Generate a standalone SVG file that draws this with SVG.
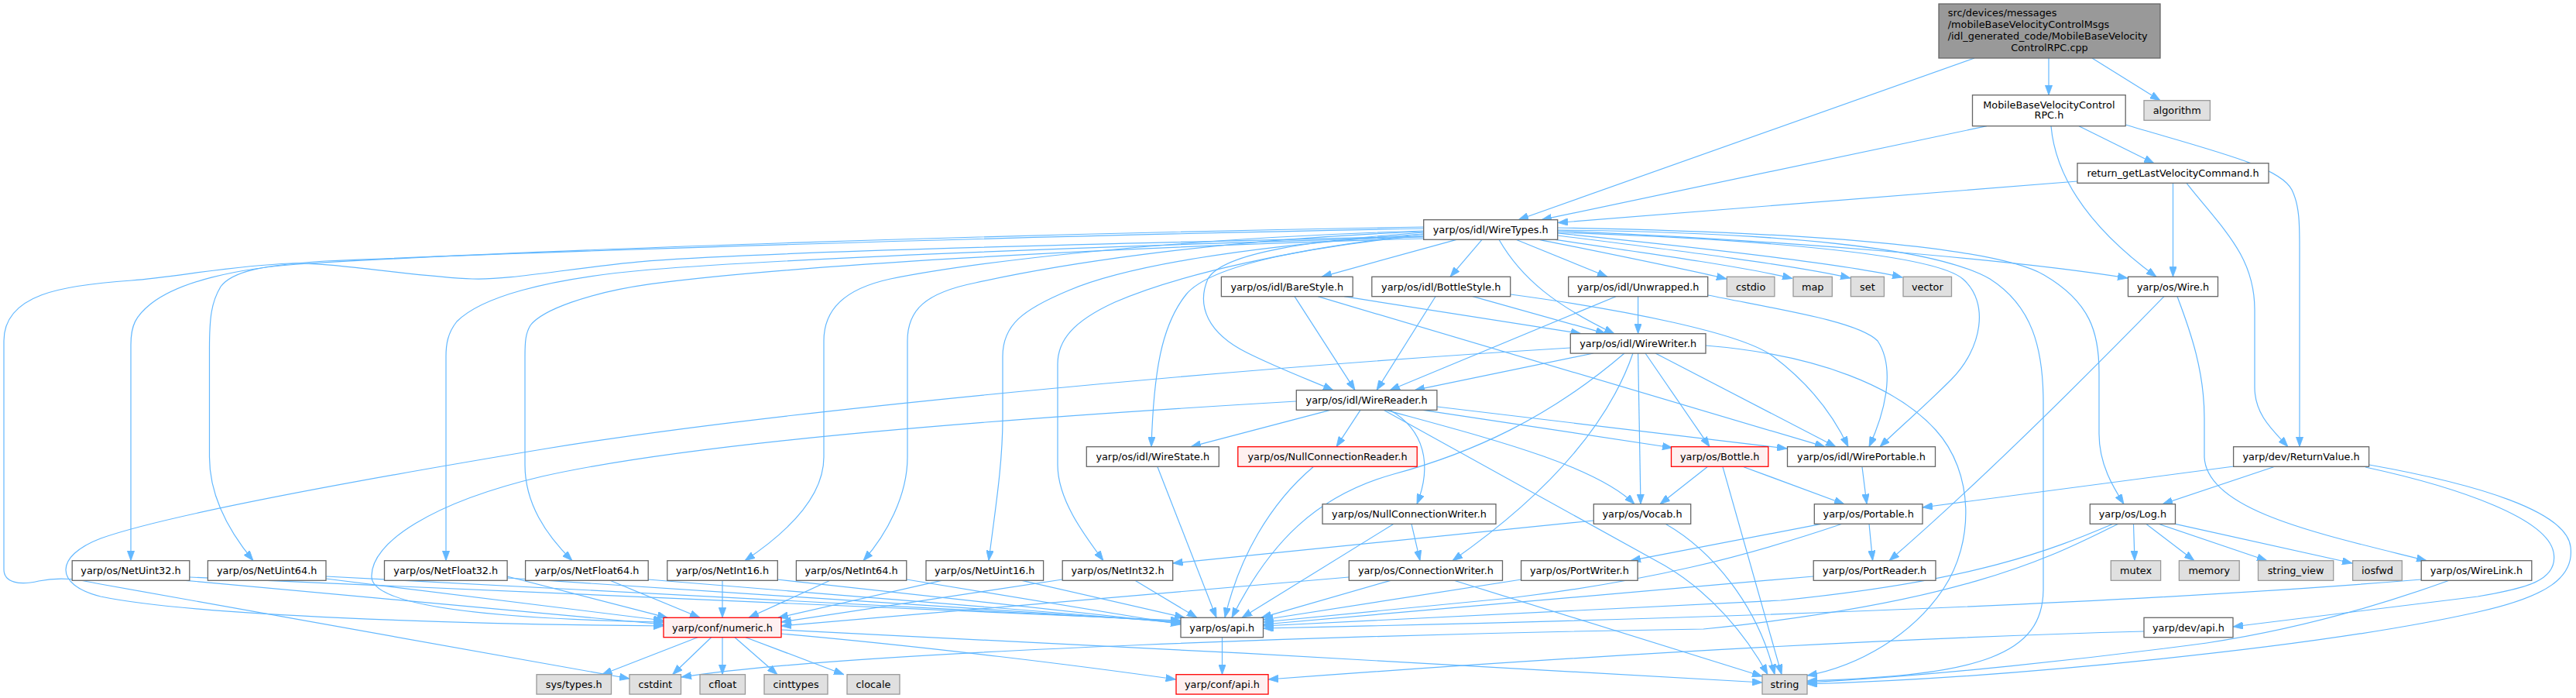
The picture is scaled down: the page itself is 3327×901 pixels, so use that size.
<svg xmlns="http://www.w3.org/2000/svg" width="3327" height="901" viewBox="0 0 3327 901">
<style>
rect{stroke-width:1.3}
.n rect{fill:#fff;stroke:#666}
.g rect{fill:#E0E0E0;stroke:#999}
.r rect{fill:#FFF0F0;stroke:#F00}
.root rect{fill:#999;stroke:#666}
text{font-family:"DejaVu Sans","Liberation Sans",sans-serif;font-size:12.85px;text-anchor:middle;fill:#000}
.l{text-anchor:start}
#edges path{fill:none;stroke:#63B8FF;stroke-width:1.2;marker-end:url(#a)}
</style>
<defs>
<marker id="a" viewBox="0 0 13 9.5" refX="13" refY="4.75" markerWidth="13" markerHeight="9.5" markerUnits="userSpaceOnUse" orient="auto"><path d="M0,0 L13,4.75 L0,9.5 z" fill="#63B8FF" stroke="#63B8FF" stroke-width="0.8"/></marker>
</defs>
<rect width="3327" height="901" fill="#fff"/>
<g id="edges">
<path d="M2646,75 L2646,122.7"/>
<path d="M2550,75 L1961,283.7"/>
<path d="M2702,75 L2790,129.7"/>
<path d="M2566,162.7 L1991,283.7"/>
<path d="M2685,162.7 L2782,210.7"/>
<path d="M2649,162.7 C2655,230 2700,295 2785,357.3"/>
<path d="M2745,161 C2860,195 2945,215 2960,245 C2970,265 2970,290 2970,320 L2970,576.7"/>
<path d="M2683,234 L2012,287.5"/>
<path d="M2806.5,236.3 L2806.5,357.3"/>
<path d="M2824,236.3 C2870,295 2912,330 2912,400 L2912,500 C2912,535 2935,555 2955,576.7"/>
<path d="M1881,309.3 L1707,357.3"/>
<path d="M1914,309.3 L1873,357.3"/>
<path d="M1958,309.3 L2076,357.3"/>
<path d="M1988,309.3 C2080,328 2180,348 2230,360"/>
<path d="M2008,309.3 C2150,330 2260,346 2315,359.5"/>
<path d="M2012,304 C2180,325 2320,343 2390,359"/>
<path d="M2012,301 C2200,320 2380,340 2457,358"/>
<path d="M2012,298 C2300,310 2600,335 2748,359"/>
<path d="M2012,294 C2350,300 2580,320 2640,355 C2700,390 2711,430 2711,480 L2711,560 C2711,600 2730,630 2743,650.7"/>
<path d="M2012,297 C2300,300 2500,320 2570,360 C2625,395 2639,450 2639,520 L2639,760 C2639,845 2560,872 2334,879"/>
<path d="M2012,300 C2300,310 2500,330 2535,360 C2570,390 2560,450 2520,490 C2480,530 2455,550 2428,576.7"/>
<path d="M1936,309.3 C1965,360 2010,395 2085,430.7"/>
<path d="M1839,300 C1700,310 1580,325 1560,360 C1545,395 1560,430 1610,455 C1650,475 1690,490 1722,503.7"/>
<path d="M1839,302 C1700,318 1565,340 1532,380 C1500,420 1490,480 1487,576.7"/>
<path d="M1839,293 C1300,302 700,322 400,340 C300,346 230,365 195,392 C175,408 169,420 169,445 L169,723.7"/>
<path d="M1839,295 C1300,305 700,325 420,337 C340,342 300,350 285,370 C273,390 270.5,410 270.5,450 L270.5,590 C270.5,640 295,685 327,723.7"/>
<path d="M1839,305 C1400,315 1000,325 840,336.7 C740,345 660,362 610,360 C540,358 430,338 375,340 C300,343 230,357 170,362 C80,368 5,380 5,440 L5,735 C5,752 25,756 50,750 C80,744 100,748 130,754 L813,876"/>
<path d="M1839,306 C1400,318 1000,335 840,348 C700,360 620,385 590,415 C578,430 576,445 576,460 L576,723.7"/>
<path d="M1839,308 C1400,320 1000,345 840,366.7 C760,378 700,400 685,420 C679,430 678,440 678,460 L678,600 C678,650 705,690 739,723.7"/>
<path d="M1839,298 C1500,308 1250,340 1150,360 C1090,373 1064,400 1064,440 L1064,590 C1064,640 1020,685 962,723.7"/>
<path d="M1839,299 C1550,310 1350,345 1260,365 C1195,378 1172,400 1172,440 L1172,590 C1172,640 1145,690 1115,723.7"/>
<path d="M1839,302 C1600,318 1450,345 1380,375 C1320,400 1295,420 1295,460 L1295,540 C1295,600 1285,660 1277,723.7"/>
<path d="M1839,304 C1680,318 1520,355 1440,390 C1385,415 1366,440 1366,470 L1366,600 C1366,645 1400,690 1425,723.7"/>
<path d="M1736,382.7 L2042,430.7"/>
<path d="M1672,382.7 L1750,503.7"/>
<path d="M1702,382.7 L2357,576.7"/>
<path d="M1902,382.7 L2074,430.7"/>
<path d="M1854,382.7 L1778,503.7"/>
<path d="M1951,380 C2100,400 2250,430 2290,460 C2330,490 2365,530 2387,576.7"/>
<path d="M2115.6,382.7 L2115.6,430.7"/>
<path d="M2087,382.7 L1795,503.7"/>
<path d="M2206,381 C2300,400 2400,415 2425,440 C2445,470 2440,520 2414,576.7"/>
<path d="M2058,456 L1827,503.7"/>
<path d="M2028,449 C1600,475 1000,530 700,580 C400,630 200,670 130,695 C70,718 70,755 130,770 C250,795 600,806 857,808"/>
<path d="M2098,456 C2000,540 1900,585 1800,612 C1700,640 1640,700 1591,797.3"/>
<path d="M2109,456 C2080,540 2010,630 1876,723.7"/>
<path d="M2115.6,456 L2119,650.7"/>
<path d="M2125,456 L2208,576.7"/>
<path d="M2138,456 L2371,576.7"/>
<path d="M2203,446 C2350,458 2450,500 2500,555 C2550,610 2550,700 2510,760 C2470,820 2400,860 2334,872"/>
<path d="M1718,529.3 L1538,576.7"/>
<path d="M1757,529.3 L1726,576.7"/>
<path d="M1795,529.3 C1840,555 1850,600 1830,650.7"/>
<path d="M1790,529.3 C1920,565 2060,600 2111,650.7"/>
<path d="M1838,529.3 L2160,578"/>
<path d="M1856,525 L2308,579"/>
<path d="M1787,529.3 L2150,730 C2210,765 2255,820 2283,870.7"/>
<path d="M1674,518 C1300,540 900,570 700,615 C560,648 478,700 480,745 C482,790 700,800 857,803"/>
<path d="M1495,602.7 L1571,797.3"/>
<path d="M1696,602.7 C1640,650 1600,720 1582,797.3"/>
<path d="M1800,676.3 L1604,797.3"/>
<path d="M1823,676.3 L1834,723.7"/>
<path d="M1796,749.3 L1629,797.3"/>
<path d="M1742,745 L1009,808"/>
<path d="M1878,749.3 L2276,873"/>
<path d="M2058,672 L1514.7,727"/>
<path d="M2151,676.3 C2210,710 2270,780 2292,870.7"/>
<path d="M2205,602.7 L2144,650.7"/>
<path d="M2252,602.7 L2382,650.7"/>
<path d="M2225,602.7 L2301,870.7"/>
<path d="M2405,602.7 L2411,650.7"/>
<path d="M2352,676.3 L2106,723.7"/>
<path d="M2414,676.3 L2418.6,723.7"/>
<path d="M2379,676.3 C2250,720 2130,750 1950,772 L1631.5,803"/>
<path d="M2342,744 L1631.5,806"/>
<path d="M1965,748 L1631.5,800"/>
<path d="M2795,382.7 C2700,480 2560,620 2440,723.7"/>
<path d="M2812,382.7 C2830,430 2847,480 2847,540 L2847,590 C2850,660 3000,690 3134,723.7"/>
<path d="M2885,602 L2483,655"/>
<path d="M2936.5,602.7 L2793,650.7"/>
<path d="M3055,603 C3180,630 3290,670 3298,713 C3305,750 3260,760 3200,770 L2884,809"/>
<path d="M3060,600 C3200,625 3315,660 3320,706 C3325,745 3290,770 3200,790 C3000,835 2600,875 2334,883"/>
<path d="M2755.5,676.3 L2757,723.7"/>
<path d="M2771.7,676.3 L2834,723.7"/>
<path d="M2788,676.3 L2928,723.7"/>
<path d="M2809.5,676.3 L3038,727"/>
<path d="M2729,676.3 C2650,710 2550,750 2300,775 L1631.5,808"/>
<path d="M2736,676.3 C2664,710 2560,775 2200,812 C1800,818 1100,840 880,874"/>
<path d="M3127,748 C2800,775 2300,797 1631.5,811"/>
<path d="M3163,749.3 C3050,790 2950,815 2850,830 C2700,850 2500,872 2334,881"/>
<path d="M2769,815 C2400,825 2000,850 1638,877"/>
<path d="M1578.5,822.7 L1578.5,870.7"/>
<path d="M901,822.7 L777.5,870.7"/>
<path d="M918.6,822.7 L868.6,870.7"/>
<path d="M933,822.7 L933,870.7"/>
<path d="M949,822.7 L1004,870.7"/>
<path d="M963,822.7 L1090,870.7"/>
<path d="M1009,818 C1200,835 1400,860 1518.6,877"/>
<path d="M1009,813 C1400,830 1900,860 2276,881"/>
<path d="M240,749.3 L857,806"/>
<path d="M245,745 L1525,801"/>
<path d="M421,747 L857,801"/>
<path d="M421,744 L1525,802"/>
<path d="M655,744 L862,797.3"/>
<path d="M655,746 L1525,803"/>
<path d="M788,749.3 L904,797.3"/>
<path d="M837,748 L1525,804"/>
<path d="M933,749.3 L933,797.3"/>
<path d="M1004,748 L1525,805"/>
<path d="M1072,749.3 L967,797.3"/>
<path d="M1171,748 L1525,806"/>
<path d="M1216,749.3 L1005,797.3"/>
<path d="M1320,749.3 L1530,797.3"/>
<path d="M1372,748 L1009,803"/>
<path d="M1466,749.3 L1546,797.3"/>
</g>
<g id="root" class="root"><rect x="2504" y="5" width="286" height="70"/><text class="l" x="2515.7" y="21.3">src/devices/messages</text><text class="l" x="2515.7" y="36.1">/mobileBaseVelocityControlMsgs</text><text class="l" x="2515.7" y="50.9">/idl_generated_code/MobileBaseVelocity</text><text x="2647" y="65.7">ControlRPC.cpp</text></g>
<g id="rpch" class="n"><rect x="2547.5" y="122.7" width="197.7" height="40"/><text x="2646.4" y="139.6">MobileBaseVelocityControl</text><text x="2646.4" y="153.3">RPC.h</text></g>
<g id="algorithm" class="g"><rect x="2769" y="129.7" width="85.4" height="25.6"/><text x="2811.7" y="147.1">algorithm</text></g>
<g id="retcmd" class="n"><rect x="2683" y="210.7" width="247" height="25.6"/><text x="2806.5" y="228.1">return_getLastVelocityCommand.h</text></g>
<g id="wiretypes" class="n"><rect x="1838.7" y="283.7" width="173" height="25.6"/><text x="1925.2" y="301.1">yarp/os/idl/WireTypes.h</text></g>
<g id="barestyle" class="n"><rect x="1577.4" y="357.3" width="169.8" height="25.4"/><text x="1662.3" y="374.7">yarp/os/idl/BareStyle.h</text></g>
<g id="bottlestyle" class="n"><rect x="1771.8" y="357.3" width="178.9" height="25.4"/><text x="1861.3" y="374.7">yarp/os/idl/BottleStyle.h</text></g>
<g id="unwrapped" class="n"><rect x="2025.7" y="357.3" width="180" height="25.4"/><text x="2115.7" y="374.7">yarp/os/idl/Unwrapped.h</text></g>
<g id="cstdio" class="g"><rect x="2230.3" y="357.3" width="61.6" height="25.4"/><text x="2261.1" y="374.7">cstdio</text></g>
<g id="map" class="g"><rect x="2316" y="357.3" width="50.3" height="25.4"/><text x="2341.2" y="374.7">map</text></g>
<g id="set" class="g"><rect x="2390.4" y="357.3" width="43" height="25.4"/><text x="2411.9" y="374.7">set</text></g>
<g id="vector" class="g"><rect x="2458" y="357.3" width="62.5" height="25.4"/><text x="2489.3" y="374.7">vector</text></g>
<g id="wire" class="n"><rect x="2748.5" y="357.3" width="116" height="25.4"/><text x="2806.5" y="374.7">yarp/os/Wire.h</text></g>
<g id="wirewriter" class="n"><rect x="2028.3" y="430.7" width="174.7" height="25.4"/><text x="2115.7" y="448.1">yarp/os/idl/WireWriter.h</text></g>
<g id="wirereader" class="n"><rect x="1674.3" y="503.7" width="181.6" height="25.6"/><text x="1765.1" y="521.1">yarp/os/idl/WireReader.h</text></g>
<g id="wirestate" class="n"><rect x="1403.3" y="576.7" width="171" height="25.6"/><text x="1488.8" y="594.1">yarp/os/idl/WireState.h</text></g>
<g id="nullconnreader" class="r"><rect x="1598.8" y="576.7" width="231.4" height="25.6"/><text x="1714.5" y="594.1">yarp/os/NullConnectionReader.h</text></g>
<g id="bottle" class="r"><rect x="2158.5" y="576.7" width="125.3" height="25.6"/><text x="2221.2" y="594.1">yarp/os/Bottle.h</text></g>
<g id="wireportable" class="n"><rect x="2308.5" y="576.7" width="191" height="25.6"/><text x="2404" y="594.1">yarp/os/idl/WirePortable.h</text></g>
<g id="returnvalue" class="n"><rect x="2884.6" y="576.7" width="175" height="25.6"/><text x="2972.1" y="594.1">yarp/dev/ReturnValue.h</text></g>
<g id="nullconnwriter" class="n"><rect x="1708" y="650.7" width="224" height="25.6"/><text x="1820" y="668.1">yarp/os/NullConnectionWriter.h</text></g>
<g id="vocab" class="n"><rect x="2058.3" y="650.7" width="125.4" height="25.6"/><text x="2121" y="668.1">yarp/os/Vocab.h</text></g>
<g id="portable" class="n"><rect x="2343.3" y="650.7" width="139.7" height="25.6"/><text x="2413.2" y="668.1">yarp/os/Portable.h</text></g>
<g id="log" class="n"><rect x="2699.3" y="650.7" width="110.2" height="25.6"/><text x="2754.4" y="668.1">yarp/os/Log.h</text></g>
<g id="netuint32" class="n"><rect x="93.2" y="723.7" width="151.6" height="25.6"/><text x="169" y="741.1">yarp/os/NetUint32.h</text></g>
<g id="netuint64" class="n"><rect x="268.4" y="723.7" width="152.6" height="25.6"/><text x="344.7" y="741.1">yarp/os/NetUint64.h</text></g>
<g id="netfloat32" class="n"><rect x="496.5" y="723.7" width="158.6" height="25.6"/><text x="575.8" y="741.1">yarp/os/NetFloat32.h</text></g>
<g id="netfloat64" class="n"><rect x="678.6" y="723.7" width="158.6" height="25.6"/><text x="757.9" y="741.1">yarp/os/NetFloat64.h</text></g>
<g id="netint16" class="n"><rect x="861.8" y="723.7" width="142.5" height="25.6"/><text x="933" y="741.1">yarp/os/NetInt16.h</text></g>
<g id="netint64" class="n"><rect x="1028.4" y="723.7" width="142.4" height="25.6"/><text x="1099.6" y="741.1">yarp/os/NetInt64.h</text></g>
<g id="netuint16" class="n"><rect x="1196" y="723.7" width="151.6" height="25.6"/><text x="1271.8" y="741.1">yarp/os/NetUint16.h</text></g>
<g id="netint32" class="n"><rect x="1372.2" y="723.7" width="142.5" height="25.6"/><text x="1443.5" y="741.1">yarp/os/NetInt32.h</text></g>
<g id="connwriter" class="n"><rect x="1742.3" y="723.7" width="198.2" height="25.6"/><text x="1841.4" y="741.1">yarp/os/ConnectionWriter.h</text></g>
<g id="portwriter" class="n"><rect x="1964.6" y="723.7" width="150.5" height="25.6"/><text x="2039.9" y="741.1">yarp/os/PortWriter.h</text></g>
<g id="portreader" class="n"><rect x="2342.2" y="723.7" width="157.8" height="25.6"/><text x="2421.1" y="741.1">yarp/os/PortReader.h</text></g>
<g id="mutex" class="g"><rect x="2726.3" y="723.7" width="64.3" height="25.6"/><text x="2758.5" y="741.1">mutex</text></g>
<g id="memory" class="g"><rect x="2814.4" y="723.7" width="77.8" height="25.6"/><text x="2853.3" y="741.1">memory</text></g>
<g id="string_view" class="g"><rect x="2916.5" y="723.7" width="97.2" height="25.6"/><text x="2965.1" y="741.1">string_view</text></g>
<g id="iosfwd" class="g"><rect x="3038.6" y="723.7" width="63.7" height="25.6"/><text x="3070.5" y="741.1">iosfwd</text></g>
<g id="wirelink" class="n"><rect x="3127.2" y="723.7" width="142.6" height="25.6"/><text x="3198.5" y="741.1">yarp/os/WireLink.h</text></g>
<g id="numeric" class="r"><rect x="857" y="797.3" width="152" height="25.4"/><text x="933" y="814.7">yarp/conf/numeric.h</text></g>
<g id="osapi" class="n"><rect x="1525" y="797.3" width="106.5" height="25.4"/><text x="1578.3" y="814.7">yarp/os/api.h</text></g>
<g id="devapi" class="n"><rect x="2769" y="797.3" width="115" height="25.4"/><text x="2826.5" y="814.7">yarp/dev/api.h</text></g>
<g id="systypes" class="g"><rect x="693" y="870.7" width="96.5" height="25.4"/><text x="741.3" y="888.1">sys/types.h</text></g>
<g id="cstdint" class="g"><rect x="813" y="870.7" width="66.5" height="25.4"/><text x="846.3" y="888.1">cstdint</text></g>
<g id="cfloat" class="g"><rect x="904" y="870.7" width="58.5" height="25.4"/><text x="933.3" y="888.1">cfloat</text></g>
<g id="cinttypes" class="g"><rect x="987" y="870.7" width="82" height="25.4"/><text x="1028" y="888.1">cinttypes</text></g>
<g id="clocale" class="g"><rect x="1094" y="870.7" width="68" height="25.4"/><text x="1128" y="888.1">clocale</text></g>
<g id="confapi" class="r"><rect x="1519" y="870.7" width="119" height="25.4"/><text x="1578.5" y="888.1">yarp/conf/api.h</text></g>
<g id="string" class="g"><rect x="2276" y="870.7" width="58" height="25.4"/><text x="2305" y="888.1">string</text></g>
</svg>
